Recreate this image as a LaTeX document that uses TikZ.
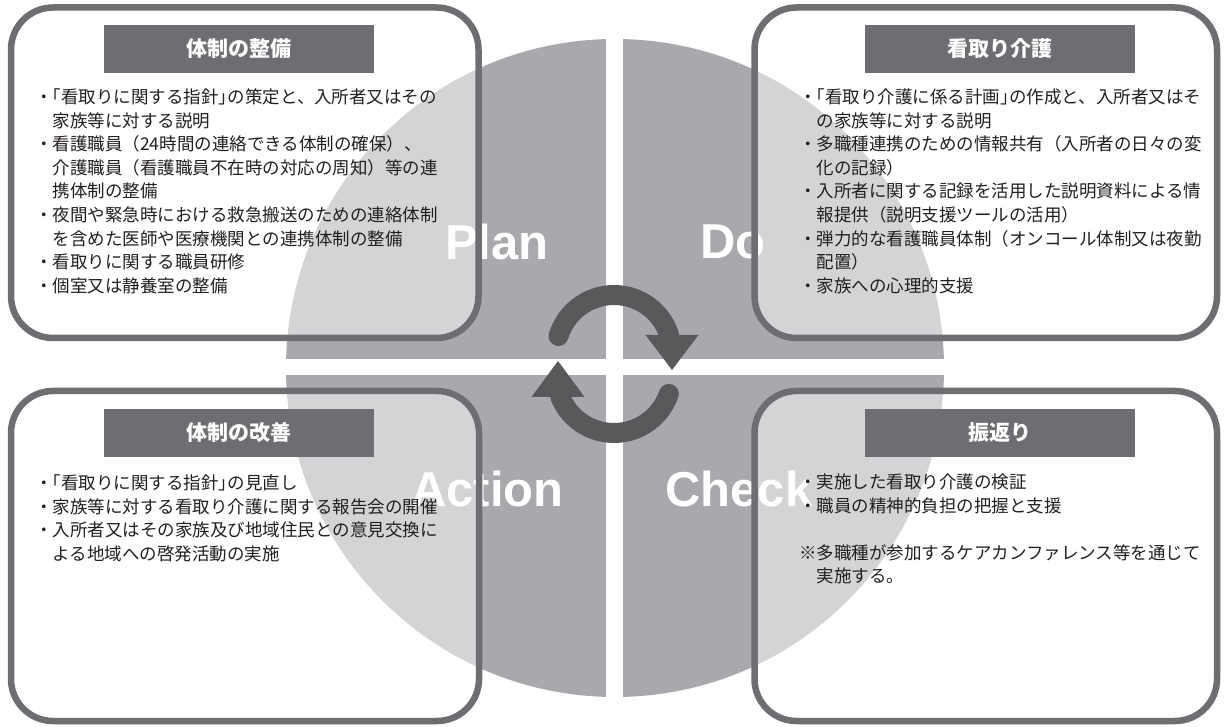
\documentclass[tikz,border=0pt]{standalone}
\usepackage{fontspec}
\newfontfamily\jp{Noto Sans CJK JP}
\newfontfamily\lat{Liberation Sans}
\definecolor{quadc}{HTML}{A7A9AC}
\definecolor{boxc}{HTML}{6D6E71}
\definecolor{titlec}{HTML}{6D6E71}
\definecolor{arrowc}{HTML}{58595B}
\definecolor{textc}{HTML}{231F20}
\newcommand\kL{\makebox[.5em][r]{「}}
\newcommand\kR{\makebox[.5em][l]{」}}
\begin{document}
\begin{tikzpicture}[x=1pt,y=1pt,
  box/.style={draw=boxc, line width=6.5pt, rounded corners=42pt, fill=white, fill opacity=0.5, draw opacity=1, inner sep=0pt, outer sep=0pt},
  titlebar/.style={fill=titlec, text=white, minimum width=270pt, minimum height=48pt, inner sep=0pt, font={\jp\bfseries\fontsize{21pt}{21pt}\selectfont}},
  bodytext/.style={anchor=base west, inner sep=0pt, text width=440pt, align=left, text=textc, font={\jp\fontsize{17.5pt}{23.6pt}\selectfont}},
  pdca/.style={anchor=base west, inner sep=0pt, text=white, font={\lat\bfseries\fontsize{49pt}{49pt}\selectfont}},
  arrowline/.style={draw=arrowc, line width=20pt},
]
\useasboundingbox (0,0) rectangle (1224,726);
\fill[white] (0,0) rectangle (1224,726);
% circle with white cross
\coordinate (cc) at (615,358);
\fill[quadc] (cc) circle[radius=329];
\fill[white] (606,0) rectangle (623,726);
\fill[white] (0,351) rectangle (1224,367);
% PDCA labels (under the boxes)
\node[pdca] (plan) at (445,466) {Plan};
\node[pdca] (do) at (700,467) {Do};
\node[pdca] (action) at (411,219) {Action};
\node[pdca] (check) at (665,219) {Check};
% boxes
\node[box, minimum width=467.5pt, minimum height=330.5pt] (tl) at (244.75,553.25) {};
\node[box, minimum width=462.5pt, minimum height=330.5pt] (tr) at (985.75,553.25) {};
\node[box, minimum width=468pt, minimum height=330pt] (bl) at (245,170) {};
\node[box, minimum width=462.5pt, minimum height=330pt] (br) at (985.75,170) {};
% title bars
\node[titlebar] (ttl) at (238.5,677) {体制の整備};
\node[titlebar] (ttr) at (1000,677) {看取り介護};
\node[titlebar] (tbl) at (238.5,293) {体制の改善};
\node[titlebar] (tbr) at (1000,293) {振返り};
% body texts
\node[bodytext] (xtl) at (35,622.5) {・\kL 看取りに関する指針\kR の策定と、入所者又はその\\
　家族等に対する説明\\
・看護職員（24時間の連絡できる体制の確保）、\\
　介護職員（看護職員不在時の対応の周知）等の連\\
　携体制の整備\\
・夜間や緊急時における救急搬送のための連絡体制\\
　を含めた医師や医療機関との連携体制の整備\\
・看取りに関する職員研修\\
・個室又は静養室の整備};
\node[bodytext, text width=420pt] (xtr) at (799,622.5) {・\kL 看取り介護に係る計画\kR の作成と、入所者又はそ\\
　の家族等に対する説明\\
・多職種連携のための情報共有（入所者の日々の変\\
　化の記録）\\
・入所者に関する記録を活用した説明資料による情\\
　報提供（説明支援ツールの活用）\\
・弾力的な看護職員体制（オンコール体制又は夜勤\\
　配置）\\
・家族への心理的支援};
\node[bodytext] (xbl) at (35,236.4) {・\kL 看取りに関する指針\kR の見直し\\
・家族等に対する看取り介護に関する報告会の開催\\
・入所者又はその家族及び地域住民との意見交換に\\
　よる地域への啓発活動の実施};
\node[bodytext, text width=420pt] (xbr) at (799,237.4) {・実施した看取り介護の検証\\
・職員の精神的負担の把握と支援\\[23.6pt]
※多職種が参加するケアカンファレンス等を通じて\\
　実施する。};
% cycle arrows
\coordinate (c1) at (614,373);
\coordinate (c2) at (614,351);
\draw[arrowline, line cap=round] (c1) ++(163:58) arc[start angle=163, end angle=18, radius=58];
\coordinate (h1a) at (645.5,391);
\coordinate (h1b) at (698.5,391);
\coordinate (h1t) at (672,356);
\fill[arrowc] (h1a) -- (h1b) -- (h1t) -- cycle;
\draw[arrowline, line cap=round] (c2) ++(-19:58) arc[start angle=-19, end angle=-158, radius=58];
\coordinate (h2a) at (531.5,329);
\coordinate (h2b) at (584.5,329);
\coordinate (h2t) at (558,365);
\fill[arrowc] (h2a) -- (h2b) -- (h2t) -- cycle;
\end{tikzpicture}
\end{document}
